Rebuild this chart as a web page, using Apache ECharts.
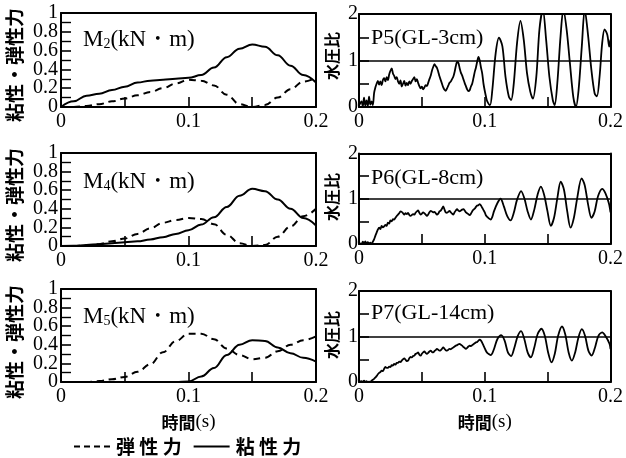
<!DOCTYPE html>
<html>
<head>
<meta charset="utf-8">
<script src="https://cdn.jsdelivr.net/npm/echarts@6.0.0/dist/echarts.min.js"></script>
<style>
  html, body { margin: 0; padding: 0; background: #fff; }
  #main { width: 626px; height: 458px; }
</style>
</head>
<body>
<div id="main"></div>
<script>
// time axis for the force panels (s)
const forceTime = [0, 0.01, 0.02, 0.03, 0.04, 0.05, 0.06, 0.07, 0.08, 0.09, 0.1,
  0.11, 0.12, 0.13, 0.14, 0.15, 0.16, 0.17, 0.18, 0.19, 0.2];

// M2 / M4 / M5 (kN·m)
const m2Elastic = [0, 0, 0.01, 0.03, 0.06, 0.09, 0.125, 0.16, 0.2, 0.25, 0.29,
  0.28, 0.23, 0.13, 0.03, 0, 0.02, 0.1, 0.19, 0.27, 0.31];
const m2Viscous = [0, 0.06, 0.12, 0.14, 0.18, 0.215, 0.26, 0.28, 0.29, 0.3, 0.31,
  0.34, 0.42, 0.53, 0.62, 0.665, 0.64, 0.55, 0.44, 0.34, 0.26];
const m4Elastic = [0, 0, 0.005, 0.02, 0.05, 0.08, 0.13, 0.19, 0.25, 0.28, 0.3,
  0.29, 0.235, 0.12, 0.03, 0, 0.01, 0.1, 0.21, 0.32, 0.4];
const m4Viscous = [0, 0.003, 0.01, 0.02, 0.03, 0.04, 0.05, 0.07, 0.095, 0.13, 0.17,
  0.23, 0.31, 0.42, 0.54, 0.615, 0.59, 0.5, 0.4, 0.3, 0.22];
const m5Elastic = [0, 0, 0, 0.01, 0.03, 0.055, 0.11, 0.19, 0.32, 0.44, 0.52,
  0.52, 0.46, 0.36, 0.29, 0.245, 0.26, 0.33, 0.4, 0.45, 0.49];
const m5Viscous = [0, 0, 0, 0, 0, 0, 0, 0, 0, 0, 0.005,
  0.06, 0.15, 0.29, 0.4, 0.45, 0.44, 0.37, 0.31, 0.26, 0.22];

// water pressure ratio, [time, ratio]
const p5Ratio = [[0,0.03],[0.002,0.12],[0.003,0.01],[0.004,0.2],[0.005,0.03],[0.006,0.14],[0.007,0.02],[0.008,0.22],[0.009,0.05],[0.01,0.12],
  [0.011,0.04],[0.012,0.3],[0.013,0.42],[0.014,0.5],[0.015,0.56],[0.016,0.48],[0.017,0.55],[0.018,0.47],[0.019,0.58],[0.02,0.62],
  [0.021,0.55],[0.022,0.64],[0.023,0.58],[0.024,0.7],[0.025,0.78],[0.026,0.83],[0.027,0.72],[0.028,0.67],[0.029,0.6],[0.03,0.64],
  [0.031,0.55],[0.032,0.5],[0.033,0.57],[0.034,0.44],[0.035,0.5],[0.036,0.56],[0.037,0.46],[0.038,0.52],[0.039,0.47],[0.04,0.55],
  [0.041,0.5],[0.042,0.56],[0.043,0.6],[0.044,0.64],[0.045,0.55],[0.046,0.6],[0.047,0.52],[0.048,0.45],[0.049,0.4],[0.05,0.44],
  [0.051,0.38],[0.052,0.42],[0.053,0.47],[0.054,0.45],[0.055,0.52],[0.056,0.6],[0.057,0.67],[0.058,0.78],[0.059,0.86],[0.06,0.92],
  [0.061,0.88],[0.062,0.84],[0.063,0.76],[0.064,0.66],[0.065,0.58],[0.066,0.5],[0.067,0.42],[0.068,0.37],[0.069,0.35],[0.07,0.4],
  [0.071,0.46],[0.072,0.52],[0.073,0.55],[0.074,0.6],[0.075,0.65],[0.076,0.75],[0.077,0.88],[0.078,0.97],[0.079,0.95],[0.08,0.84],
  [0.081,0.74],[0.082,0.68],[0.083,0.6],[0.084,0.52],[0.085,0.45],[0.086,0.38],[0.087,0.34],[0.088,0.36],[0.089,0.44],[0.09,0.5],
  [0.091,0.62],[0.092,0.75],[0.093,0.85],[0.094,0.98],[0.095,1.08],[0.096,1.0],[0.097,0.85],[0.098,0.72],[0.099,0.5],[0.1,0.35],
  [0.101,0.22],[0.102,0.12],[0.1042,0.04],[0.106,0.36],[0.1087,1.16],[0.1113,1.49],[0.114,1.31],[0.1165,0.65],[0.1192,0.22],[0.121,0.15],
  [0.1231,0.51],[0.1257,1.38],[0.1284,1.85],[0.131,1.45],[0.1336,0.73],[0.1362,0.33],[0.1383,0.18],[0.141,0.65],[0.1435,1.67],[0.1462,2.1],
  [0.1488,1.45],[0.1514,0.65],[0.1541,0.15],[0.1556,0.04],[0.1577,0.51],[0.1603,1.53],[0.1625,2.1],[0.1651,1.67],[0.1677,0.95],[0.1704,0.22],
  [0.1725,0],[0.1746,0.36],[0.1772,1.31],[0.1795,2.1],[0.1822,1.53],[0.1848,0.8],[0.1874,0.29],[0.1892,0.23],[0.1913,0.65],[0.1934,1.38],
  [0.1953,1.67],[0.1975,1.55],[0.199,1.3],[0.2,1.45]];
const p6Ratio = [[0,0.02],[0.002,0],[0.003,0.05],[0.004,0.01],[0.005,0.06],[0.006,0],[0.007,0.04],[0.008,0.01],[0.009,0.03],[0.01,0],
  [0.011,0.05],[0.012,0.1],[0.013,0.18],[0.014,0.25],[0.015,0.32],[0.016,0.36],[0.017,0.33],[0.018,0.4],[0.019,0.37],[0.02,0.39],
  [0.021,0.42],[0.022,0.4],[0.023,0.47],[0.024,0.45],[0.025,0.52],[0.026,0.5],[0.027,0.55],[0.028,0.54],[0.029,0.58],[0.03,0.62],
  [0.031,0.65],[0.032,0.68],[0.033,0.72],[0.034,0.71],[0.035,0.68],[0.036,0.65],[0.037,0.68],[0.038,0.66],[0.039,0.69],[0.04,0.64],
  [0.041,0.62],[0.042,0.64],[0.043,0.66],[0.044,0.65],[0.045,0.69],[0.046,0.72],[0.047,0.74],[0.048,0.69],[0.049,0.65],[0.05,0.67],
  [0.051,0.7],[0.052,0.68],[0.053,0.65],[0.054,0.62],[0.055,0.65],[0.056,0.7],[0.057,0.73],[0.058,0.72],[0.059,0.7],[0.06,0.71],
  [0.061,0.68],[0.062,0.65],[0.063,0.67],[0.064,0.72],[0.065,0.74],[0.066,0.78],[0.067,0.83],[0.068,0.76],[0.069,0.7],[0.07,0.69],
  [0.071,0.71],[0.072,0.73],[0.073,0.7],[0.074,0.67],[0.075,0.65],[0.076,0.7],[0.077,0.74],[0.078,0.77],[0.079,0.74],[0.08,0.72],
  [0.081,0.74],[0.082,0.76],[0.083,0.77],[0.084,0.74],[0.085,0.7],[0.086,0.68],[0.087,0.66],[0.088,0.64],[0.089,0.67],[0.09,0.72],
  [0.091,0.76],[0.092,0.78],[0.093,0.82],[0.094,0.85],[0.095,0.86],[0.096,0.88],[0.097,0.85],[0.098,0.8],[0.099,0.75],[0.1,0.7],
  [0.101,0.63],[0.102,0.6],[0.1035,0.56],[0.1047,0.54],[0.106,0.6],[0.1073,0.72],[0.11,0.9],[0.1126,1.0],[0.1152,0.83],[0.1178,0.62],
  [0.1205,0.52],[0.1231,0.69],[0.1257,0.98],[0.1289,1.17],[0.1315,1.01],[0.1341,0.72],[0.1367,0.54],[0.1394,0.76],[0.142,1.09],[0.1446,1.27],
  [0.1472,1.09],[0.1499,0.72],[0.1525,0.4],[0.1551,0.58],[0.1577,1.01],[0.1604,1.38],[0.163,1.2],[0.1656,0.72],[0.1682,0.36],[0.1709,0.58],
  [0.1735,1.01],[0.177,1.45],[0.1795,1.3],[0.1822,0.87],[0.1848,0.58],[0.1874,0.72],[0.19,1.05],[0.1934,1.22],[0.196,1.12],[0.1987,0.9],
  [0.2,0.7]];
const p7Ratio = [[0,0],[0.002,0.02],[0.003,0],[0.004,0.03],[0.005,0],[0.006,0.02],[0.007,0],[0.008,0.01],[0.009,0],[0.01,0.03],
  [0.011,0.05],[0.012,0.07],[0.013,0.1],[0.014,0.13],[0.015,0.17],[0.016,0.2],[0.017,0.22],[0.018,0.25],[0.019,0.24],[0.02,0.29],
  [0.021,0.33],[0.022,0.31],[0.023,0.31],[0.024,0.34],[0.025,0.33],[0.026,0.37],[0.027,0.36],[0.028,0.4],[0.029,0.38],[0.03,0.42],
  [0.031,0.42],[0.032,0.45],[0.033,0.44],[0.034,0.47],[0.035,0.5],[0.036,0.52],[0.037,0.49],[0.038,0.46],[0.039,0.47],[0.04,0.52],
  [0.041,0.55],[0.042,0.54],[0.043,0.57],[0.044,0.58],[0.045,0.62],[0.046,0.63],[0.047,0.65],[0.048,0.6],[0.049,0.58],[0.05,0.62],
  [0.051,0.65],[0.052,0.67],[0.053,0.64],[0.054,0.62],[0.055,0.64],[0.056,0.67],[0.057,0.69],[0.058,0.66],[0.059,0.65],[0.06,0.68],
  [0.061,0.7],[0.062,0.73],[0.063,0.71],[0.064,0.69],[0.065,0.7],[0.066,0.73],[0.067,0.76],[0.068,0.73],[0.069,0.7],[0.07,0.69],
  [0.071,0.71],[0.072,0.73],[0.073,0.72],[0.074,0.74],[0.075,0.76],[0.076,0.78],[0.077,0.8],[0.078,0.81],[0.079,0.83],[0.08,0.84],
  [0.081,0.82],[0.082,0.8],[0.083,0.77],[0.084,0.75],[0.085,0.73],[0.086,0.75],[0.087,0.78],[0.088,0.8],[0.089,0.79],[0.09,0.81],
  [0.091,0.83],[0.092,0.85],[0.093,0.87],[0.094,0.88],[0.095,0.91],[0.096,0.93],[0.097,0.91],[0.098,0.86],[0.099,0.8],[0.1,0.74],
  [0.101,0.68],[0.102,0.64],[0.1035,0.61],[0.1047,0.59],[0.106,0.63],[0.1073,0.72],[0.11,0.94],[0.1131,1.03],[0.1158,0.91],[0.1184,0.65],
  [0.121,0.57],[0.1236,0.76],[0.1262,1.01],[0.1289,1.12],[0.1315,0.94],[0.1341,0.65],[0.1367,0.54],[0.1394,0.76],[0.142,1.05],[0.1451,1.17],
  [0.1478,1.01],[0.1504,0.65],[0.1531,0.43],[0.1557,0.62],[0.1583,1.01],[0.1614,1.22],[0.164,1.05],[0.1667,0.65],[0.1693,0.47],[0.1719,0.65],
  [0.1745,0.98],[0.1772,1.16],[0.1798,1.01],[0.1824,0.69],[0.185,0.58],[0.1877,0.76],[0.1903,1.01],[0.1934,1.09],[0.196,1.01],[0.1992,0.84],
  [0.2,0.72]];

const serif = 'Liberation Serif';
const gothic = 'Noto Sans CJK JP';

// panel boxes: [left, top, width, height]
const panels = [
  { box: [61, 13, 255, 94], force: true },   // M2
  { box: [359, 14, 254, 93], force: false }, // P5
  { box: [61, 153, 255, 93], force: true },  // M4
  { box: [359, 153.5, 254, 90.5], force: false }, // P6
  { box: [61, 289, 255, 93], force: true },  // M5
  { box: [359, 291, 254, 91], force: false } // P7
];

const TICK = 5;
const frame = () => ({ show: true, onZero: false, lineStyle: { color: '#000', width: 2 } });
const noLine = { show: false };
const noTick = { show: false };
const noLabel = { show: false };
const lab = () => ({ color: '#000', fontFamily: serif, fontSize: 20 });
const tick = () => ({ show: true, length: TICK, lineStyle: { color: '#000', width: 1.6 } });

const grid = [], xAxis = [], yAxis = [];
const dataY = []; // y axis index that carries the series of each panel
panels.forEach((p, i) => {
  grid.push({ left: p.box[0], top: p.box[1], width: p.box[2], height: p.box[3] });
  const bottomRow = i >= 4;
  const xBase = { type: 'value', gridIndex: i, min: 0, max: 0.2, interval: 0.05, splitLine: { show: false } };
  const yBase = { type: 'value', gridIndex: i, min: 0, max: p.force ? 1 : 2,
    interval: p.force ? 0.2 : 0.5, splitLine: { show: false } };
  const minor = { show: p.force, splitNumber: 2, length: TICK, lineStyle: { color: '#000', width: 1.4 } };

  // x: labelled bottom frame, top frame, and tick rows pulled in by the tick length
  xAxis.push(Object.assign({}, xBase, {
    position: 'bottom', axisLine: frame(), axisTick: noTick,
    axisLabel: Object.assign(lab(), {
      margin: 5, showMinLabel: true, showMaxLabel: true,
      formatter: v => (Math.round(v * 100) % 10 === 0 ? String(Math.round(v * 10) / 10) : '')
    }),
    name: bottomRow ? '{c|時間}{s|(s)}' : '',
    nameLocation: 'middle', nameGap: 31,
    nameTextStyle: { rich: {
      c: { fontFamily: gothic, fontWeight: 'bold', fontSize: 17, color: '#000' },
      s: { fontFamily: serif, fontSize: 19, color: '#000' }
    } }
  }));
  xAxis.push(Object.assign({}, xBase, { position: 'top', axisLine: frame(), axisTick: noTick, axisLabel: noLabel }));
  xAxis.push(Object.assign({}, xBase, { position: 'bottom', offset: -TICK, axisLine: noLine, axisTick: tick(), axisLabel: noLabel }));
  xAxis.push(Object.assign({}, xBase, { position: 'top', offset: -TICK, axisLine: noLine, axisTick: tick(), axisLabel: noLabel }));

  // y: labelled left frame, right frame, tick columns pulled in by the tick length
  dataY.push(yAxis.length);
  yAxis.push(Object.assign({}, yBase, {
    position: 'left', axisLine: frame(), axisTick: noTick,
    axisLabel: Object.assign(lab(), {
      margin: p.force ? 3 : 1,
      showMinLabel: !p.force, showMaxLabel: !p.force,
      formatter: p.force ? (v => String(Math.round(v * 10) / 10))
                         : (v => (Math.round(v * 10) % 10 === 0 ? String(Math.round(v)) : ''))
    })
  }));
  yAxis.push(Object.assign({}, yBase, { position: 'right', axisLine: frame(), axisTick: noTick, axisLabel: noLabel }));
  yAxis.push(Object.assign({}, yBase, { position: 'left', offset: -TICK, axisLine: noLine, axisTick: tick(), minorTick: minor, axisLabel: noLabel }));
  yAxis.push(Object.assign({}, yBase, { position: 'right', offset: -TICK, axisLine: noLine, axisTick: tick(), minorTick: minor, axisLabel: noLabel }));
  if (p.force) {
    // end labels 0 and 1 of the force scale
    yAxis.push(Object.assign({}, yBase, {
      position: 'left', interval: 1, axisLine: noLine, axisTick: noTick,
      axisLabel: Object.assign(lab(), { margin: 3, showMinLabel: true, showMaxLabel: true })
    }));
  }
});

const pairs = vals => forceTime.map((t, k) => [t, vals[k]]);
const forceSets = [[m2Elastic, m2Viscous], [m4Elastic, m4Viscous], [m5Elastic, m5Viscous]];
const ratioSets = [p5Ratio, p6Ratio, p7Ratio];

const series = [];
forceSets.forEach((set, r) => {
  const gi = r * 2;
  series.push({
    name: '弾性力', type: 'line', xAxisIndex: gi * 4, yAxisIndex: dataY[gi],
    data: pairs(set[0]), smooth: 0.4, smoothMonotone: 'x', symbol: 'none',
    lineStyle: { color: '#000', width: 2, type: [7, 5] }, itemStyle: { color: '#000' }
  });
  series.push({
    name: '粘性力', type: 'line', xAxisIndex: gi * 4, yAxisIndex: dataY[gi],
    data: pairs(set[1]), smooth: 0.4, smoothMonotone: 'x', symbol: 'none',
    lineStyle: { color: '#000', width: 2 }, itemStyle: { color: '#000' }
  });
});
ratioSets.forEach((set, r) => {
  const gi = r * 2 + 1;
  series.push({
    name: '水圧比', type: 'line', xAxisIndex: gi * 4, yAxisIndex: dataY[gi],
    data: set, smooth: 0.3, symbol: 'none', clip: true,
    lineStyle: { color: '#000', width: 1.8 },
    markLine: {
      silent: true, symbol: ['none', 'none'], label: { show: false },
      lineStyle: { color: '#000', width: 1.5, type: 'solid' },
      data: [{ yAxis: 1 }]
    }
  });
});

const forceTitle = (sub, left, top) => ({
  text: '{m|M}{s|' + sub + '}{m|(kN・m)}', left: left, top: top, padding: 0,
  textStyle: { fontWeight: 'normal', rich: {
    m: { fontFamily: serif, fontSize: 23, fontWeight: 'normal', color: '#000' },
    s: { fontFamily: serif, fontSize: 14, fontWeight: 'normal', color: '#000', verticalAlign: 'bottom' }
  } }
});
const ratioTitle = (text, left, top) => ({
  text: text, left: left, top: top, padding: 0,
  textStyle: { fontFamily: serif, fontSize: 22, fontWeight: 'normal', color: '#000' }
});

const yName = (text, x, y, size) => ({
  type: 'text', x: x, y: y, rotation: Math.PI / 2,
  style: { text: text, fontFamily: gothic, fontWeight: 'bold', fontSize: size, fill: '#000',
    align: 'center', verticalAlign: 'middle' }
});

const chart = echarts.init(document.getElementById('main'));
chart.setOption({
  animation: false,
  backgroundColor: '#fff',
  title: [
    forceTitle('2', 83, 28), ratioTitle('P5(GL-3cm)', 371, 27),
    forceTitle('4', 83, 170), ratioTitle('P6(GL-8cm)', 371, 167),
    forceTitle('5', 83, 305), ratioTitle('P7(GL-14cm)', 371, 302)
  ],
  legend: {
    data: [
      { name: '弾性力', icon: 'path://M0,0h6v2h-6z M10,0h6v2h-6z M20,0h6v2h-6z M30,0h6v2h-6z' },
      { name: '粘性力', icon: 'path://M0,0h36v2h-36z' }
    ],
    left: 74, top: 437, padding: 0,
    itemWidth: 38, itemHeight: 2, itemGap: 12,
    textStyle: { fontFamily: gothic, fontWeight: 'bold', fontSize: 19, color: '#000' },
    formatter: n => n.split('').join(' ')
  },
  graphic: [
    yName('粘性・弾性力', 15, 65, 19),
    yName('粘性・弾性力', 15, 205, 19),
    yName('粘性・弾性力', 15, 342, 19),
    yName('水圧比', 332, 56, 16),
    yName('水圧比', 332, 197, 16),
    yName('水圧比', 332, 335, 16)
  ],
  grid: grid,
  xAxis: xAxis,
  yAxis: yAxis,
  series: series
});
</script>
</body>
</html>
